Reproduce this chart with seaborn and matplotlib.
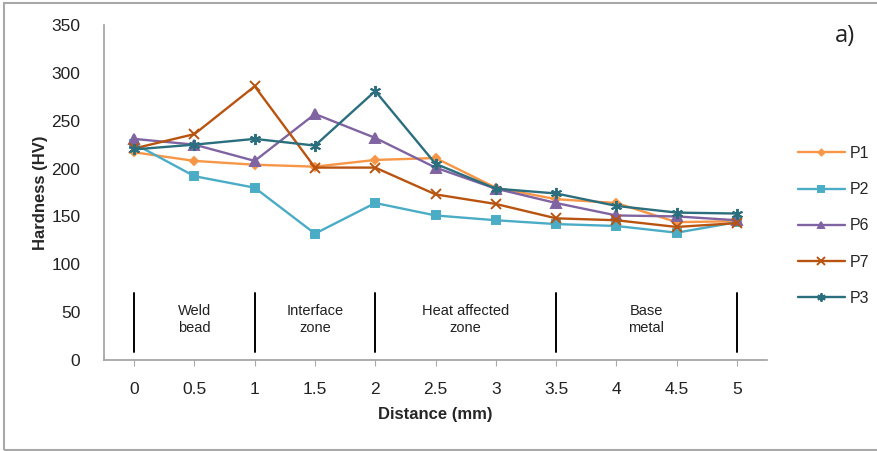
"""Hardness profile across the weld: five traverses P1-P7."""

import matplotlib
matplotlib.use("Agg")
import matplotlib.pyplot as plt
import seaborn as sns
from matplotlib.patches import Rectangle

DISTANCE = [0, 0.5, 1, 1.5, 2, 2.5, 3, 3.5, 4, 4.5, 5]
TICK_LABELS = ["0", "0.5", "1", "1.5", "2", "2.5", "3", "3.5", "4", "4.5", "5"]

P1 = [217, 208, 204, 202, 209, 211, 180, 168, 164, 144, 145]
P2 = [226, 192, 180, 132, 164, 151, 146, 142, 140, 133, 144]
P6 = [231, 225, 208, 257, 232, 201, 179, 164, 151, 150, 146]
P7 = [221, 236, 286, 201, 201, 173, 163, 148, 146, 139, 143]
P3 = [220, 225, 231, 224, 281, 205, 179, 174, 161, 154, 153]

SERIES = ["P1", "P2", "P6", "P7", "P3"]
VALUES = [P1, P2, P6, P7, P3]
COLORS = ["#F79646", "#4BACC6", "#8064A2", "#B8540F", "#2B6E7E"]
MARKERS = ["D", "s", "^", "x", (6, 2, 0)]
MSIZES = [4, 6, 6.5, 7, 8]

ZONE_BOUNDS = [0, 1, 2, 3.5, 5]
ZONE_NAMES = ["Weld\nbead", "Interface\nzone", "Heat affected\nzone", "Base\nmetal"]


def main() -> int:
    sns.set_theme(style="white")
    plt.rcParams["font.family"] = ["Liberation Sans", "DejaVu Sans"]

    fig = plt.figure(figsize=(8.77, 4.51), dpi=100)
    ax = fig.add_axes([0.1186, 0.2018, 0.756, 0.7428])

    for name, vals, col, mk, ms in zip(SERIES, VALUES, COLORS, MARKERS, MSIZES):
        sns.lineplot(
            x=DISTANCE,
            y=vals,
            color=col,
            marker=mk,
            markersize=ms,
            markeredgecolor=col,
            markerfacecolor=col,
            markeredgewidth=1.4,
            linewidth=1.7,
            label=name,
            ax=ax,
        )

    # zone separators and names
    for xb in ZONE_BOUNDS:
        ax.plot([xb, xb], [8, 70], color="black", linewidth=1.4)
    for left, right, text in zip(ZONE_BOUNDS[:-1], ZONE_BOUNDS[1:], ZONE_NAMES):
        ax.text((left + right) / 2, 42, text, ha="center", va="center",
                fontsize=10.5, color="#222222", linespacing=1.3)

    ax.set_xlim(-0.25, 5.25)
    ax.set_ylim(0, 350)
    ax.set_yticks(range(0, 351, 50))
    ax.set_xticks(DISTANCE)
    ax.set_xticklabels(TICK_LABELS)
    ax.tick_params(axis="y", labelsize=12.5, length=0, pad=17, colors="#222222")
    ax.tick_params(axis="x", labelsize=12.5, bottom=True, length=4, width=0.8,
                   color="#AAAAAA", pad=12, labelcolor="#222222")
    ax.set_xlabel("Distance (mm)", fontsize=12, fontweight="bold", labelpad=7)
    ax.set_ylabel("Hardness (HV)", fontsize=12, fontweight="bold", labelpad=2)

    for side in ["top", "right"]:
        ax.spines[side].set_visible(False)
    for side in ["left", "bottom"]:
        ax.spines[side].set_color("#A0A0A0")
        ax.spines[side].set_linewidth(1.2)

    handles, labels = ax.get_legend_handles_labels()
    ax.legend_.remove()
    fig.legend(handles, labels, loc="center left", bbox_to_anchor=(0.893, 0.499),
               frameon=False, fontsize=11.5, labelspacing=1.33, handlelength=3.0,
               handletextpad=0.25, markerscale=0.75)

    fig.text(0.963, 0.92, "a)", fontsize=17, ha="center", va="center",
             family=["Open Sans", "DejaVu Sans"], color="#222222")

    fig.patches.append(Rectangle((0.005, 0.003), 1.2, 0.99, transform=fig.transFigure,
                                 fill=False, edgecolor="#A8A8A8", linewidth=1.5))

    fig.savefig("out.png", dpi=100)
    plt.close(fig)
    return 0


if __name__ == "__main__":
    raise SystemExit(main())
